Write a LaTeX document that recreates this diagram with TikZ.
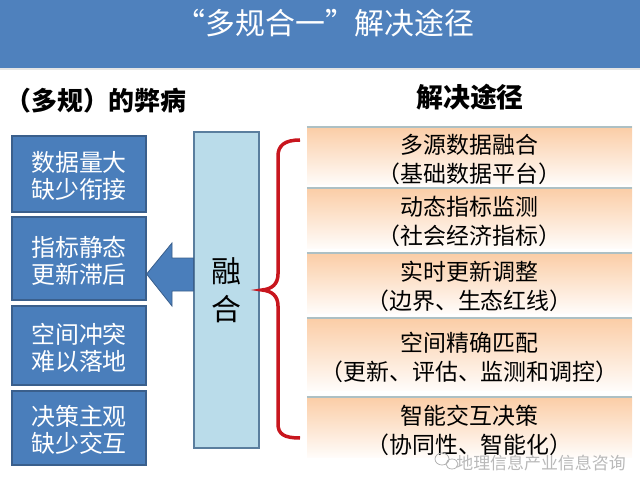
\documentclass[tikz,border=0pt]{standalone}
\usepackage{fontspec}
\setmainfont{Noto Sans CJK SC}
\definecolor{hdblue}{HTML}{4F81BD}
\definecolor{boxblue}{HTML}{4A7EBB}
\definecolor{boxline}{HTML}{3A5F8C}
\definecolor{paleblue}{HTML}{BADCEA}
\definecolor{paleline}{HTML}{5A7E9E}
\definecolor{peach}{HTML}{FBCDA6}
\definecolor{edgegray}{HTML}{ADC0C4}
\definecolor{bracered}{HTML}{C8161E}
\begin{document}
\begin{tikzpicture}[x=1bp,y=-1bp,
		ill/.style={draw=boxline,line width=1.2bp,fill=boxblue,minimum width=134bp,inner sep=0pt},
		illtext/.style={text=white,align=center,inner sep=0pt,font=\fontsize{24}{27}\selectfont},
		way/.style={minimum width=325bp,inner sep=0pt,top color=peach,middle color=peach,bottom color=white!94!peach},
		waytext/.style={align=center,inner sep=0pt,font=\fontsize{23}{29}\selectfont},
		edge/.style={edgegray,line width=2.5bp},
		head/.style={font=\bfseries\fontsize{26}{26}\selectfont}]
		\def\illbox(#1,#2,#3,#4,#5){\node[ill,minimum height=#3bp](#1)at(79,#2){};\node[illtext](#1t)at([yshift=-2bp]#1.center){#4\\#5};}%
		\def\waybox(#1,#2,#3,#4,#5){\node[way,minimum height=#3bp](#1)at(469.5,#2){};\node[waytext](#1t)at([yshift=-3.5bp]#1.center){#4\\#5};\draw[edge](#1.north west)--(#1.north east);}%
		\useasboundingbox(0,0)rectangle(640,480);

		\fill[hdblue](0,0)rectangle(640,68);
		\fill[gray!20](0,68)rectangle(640,70);
		\node[text=white,font=\fontsize{30}{30}\selectfont](title)at(325,23){“多规合一”解决途径};
		\node[head](ills)at(96,101){（多规）的弊病};
		\node[head,font=\bfseries\fontsize{27}{27}\selectfont](ways)at(470,97){解决途径};

		\illbox(ill1,174,76,数据量大,缺少衔接)
		\illbox(ill2,258.5,83,指标静态,更新滞后)
		\illbox(ill3,345.5,79,空间冲突,难以落地)
		\illbox(ill4,428,74,决策主观,缺少交互)

		\node[draw=paleline,line width=1.2bp,fill=paleblue,minimum width=65bp,minimum height=316bp,align=center,font=\fontsize{30}{38}\selectfont](rong)at(226.5,290){融\\合};
		\filldraw[fill=boxblue,draw=boxline,line width=0.8bp]
			(rong.west|-0,258)--(172,258)--(172,243)--(ill2.east|-0,274)--(172,306)--(172,291)--(rong.west|-0,291)--cycle;

		\waybox(way1,156,58,多源数据融合,（基础数据平台）)
		\waybox(way2,218,60,动态指标监测,（社会经济指标）)
		\waybox(way3,283,60,实时更新调整,（边界、生态红线）)
		\waybox(way4,354,72,空间精确匹配,（更新、评估、监测和调控）)
		\waybox(way5,427,60,智能交互决策,（协同性、智能化）)

		\coordinate(tip)at(262,290);
		\draw[bracered,line width=3.5bp]
			(300,140)..controls(284,140)and(278,146)..(278,156)--(278,274)
			..controls(278,284)and(272,289)..(tip)
			..controls(272,291)and(278,296)..(278,306)--(278,424)
			..controls(278,434)and(284,438)..(300,438);

		\draw[gray!60,line width=0.8bp](442,459)ellipse(7 and 6)(452,464)ellipse(6 and 5);
		\node[text=gray!55,font=\fontsize{17}{17}\selectfont](mark)at(541,463){地理信息产业信息咨询};
	\end{tikzpicture}
\end{document}
